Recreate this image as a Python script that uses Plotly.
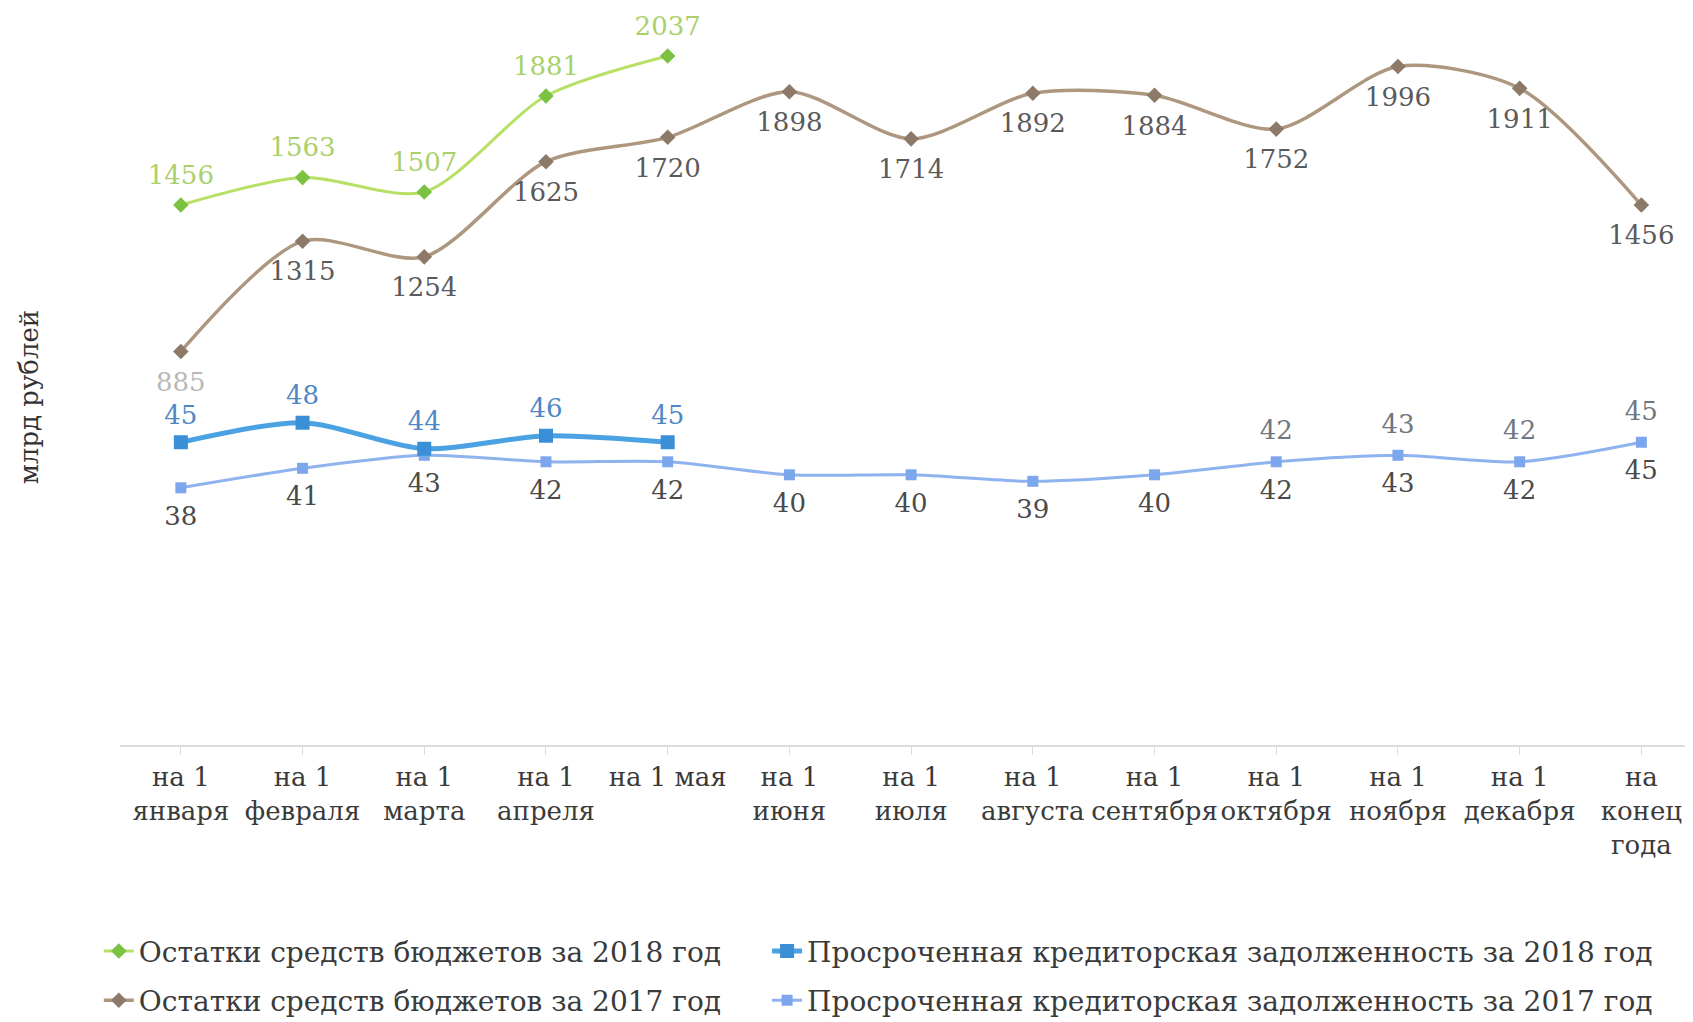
import plotly.graph_objects as go

# категории (подписи оси X)
months = ["на 1<br>января", "на 1<br>февраля", "на 1<br>марта", "на 1<br>апреля",
          "на 1 мая", "на 1<br>июня", "на 1<br>июля", "на 1<br>августа",
          "на 1<br>сентября", "на 1<br>октября", "на 1<br>ноября", "на 1<br>декабря",
          "на<br>конец<br>года"]

# остатки средств бюджетов, млрд рублей
ost_2018 = [1456, 1563, 1507, 1881, 2037]
ost_2017 = [885, 1315, 1254, 1625, 1720, 1898, 1714, 1892, 1884, 1752, 1996, 1911, 1456]

# просроченная кредиторская задолженность, млрд рублей
debt_2018 = [45, 48, 44, 46, 45]
debt_2017 = [38, 41, 43, 42, 42, 40, 40, 39, 40, 42, 43, 42, 45]
# дублирующие подписи сверху (октябрь - конец года)
debt_2017_top = [None] * 9 + debt_2017[9:]

FONT = "DejaVu Serif"
LBL = 26
CLEAR = "rgba(0,0,0,0)"


def labels(x, y, pos, size, color, axis):
    # подписи значений отдельным слоем: прозрачный маркер задаёт отступ от точки
    return go.Scatter(x=x, y=y, mode="markers+text", showlegend=False, hoverinfo="skip",
                      marker=dict(size=size, color=CLEAR), text=y, textposition=pos,
                      textfont=dict(family=FONT, size=LBL, color=color), yaxis=axis,
                      cliponaxis=False)


fig = go.Figure()

# --- 2017: остатки
fig.add_trace(go.Scatter(
    x=months, y=ost_2017, name="Остатки средств бюджетов за 2017 год",
    mode="lines+markers", line=dict(color="#ad977f", width=3.5, shape="spline", smoothing=0.8),
    marker=dict(symbol="diamond", size=12, color="#8c7968"),
    legend="legend3", yaxis="y", cliponaxis=False))
fig.add_trace(labels(months, ost_2017, "bottom center", 30,
                     ["#b8b8b8"] + ["#5a5a5a"] * 12, "y"))

# --- 2018: остатки
fig.add_trace(go.Scatter(
    x=months[:5], y=ost_2018, name="Остатки средств бюджетов за 2018 год",
    mode="lines+markers", line=dict(color="#b8e066", width=3, shape="spline", smoothing=0.8),
    marker=dict(symbol="diamond", size=12, color="#7cc242"),
    legend="legend", yaxis="y", cliponaxis=False))
fig.add_trace(labels(months[:5], ost_2018, "top center", 22, "#aad06a", "y"))

# --- 2017: задолженность
fig.add_trace(go.Scatter(
    x=months, y=debt_2017, name="Просроченная кредиторская задолженность за 2017 год",
    mode="lines+markers", line=dict(color="#8fb3ef", width=3, shape="spline", smoothing=0.8),
    marker=dict(symbol="square", size=11, color="#7ca7ec"),
    legend="legend4", yaxis="y2"))
fig.add_trace(labels(months, debt_2017, "bottom center", 26, "#4a4a4a", "y2"))
fig.add_trace(labels(months, debt_2017_top, "top center", 24, "#6f7782", "y2"))

# --- 2018: задолженность
fig.add_trace(go.Scatter(
    x=months[:5], y=debt_2018, name="Просроченная кредиторская задолженность за 2018 год",
    mode="lines+markers", line=dict(color="#4ba2e2", width=5, shape="spline", smoothing=0.8),
    marker=dict(symbol="square", size=14, color="#3a8fd6"),
    legend="legend2", yaxis="y2"))
fig.add_trace(labels(months[:5], debt_2018, "top center", 18, "#4d87c6", "y2"))

leg_font = dict(family=FONT, size=28, color="#3a3a3a")
col1, col2 = -0.0134, 0.4093
row1, row2 = -0.285, -0.353

fig.update_layout(
    width=1693, height=1022,
    margin=dict(l=112, r=0, t=13, b=285),
    paper_bgcolor="white", plot_bgcolor="white",
    font=dict(family=FONT, size=25, color="#333333"),
    showlegend=True,
    xaxis=dict(type="category", range=[-0.5, 12.49], showgrid=False, zeroline=False,
               showline=True, linecolor="#dcdcdc", linewidth=1.5,
               ticks="outside", ticklen=8, tickcolor="#dcdcdc",
               tickfont=dict(family=FONT, size=26, color="#3a3a3a")),
    yaxis=dict(range=[-649.6, 2173.6], visible=False),
    yaxis2=dict(range=[-1.5, 109.7], overlaying="y", visible=False),
    legend=dict(orientation="h", x=col1, xanchor="left", y=row1, yanchor="middle", font=leg_font),
    legend2=dict(orientation="h", x=col2, xanchor="left", y=row1, yanchor="middle", font=leg_font),
    legend3=dict(orientation="h", x=col1, xanchor="left", y=row2, yanchor="middle", font=leg_font),
    legend4=dict(orientation="h", x=col2, xanchor="left", y=row2, yanchor="middle", font=leg_font),
    annotations=[dict(text="млрд рублей", xref="paper", yref="paper", x=-0.057, y=0.48,
                      textangle=-90, showarrow=False, xanchor="center", yanchor="middle",
                      font=dict(family=FONT, size=26, color="#333333"))],
)

fig.write_html("out.html")
